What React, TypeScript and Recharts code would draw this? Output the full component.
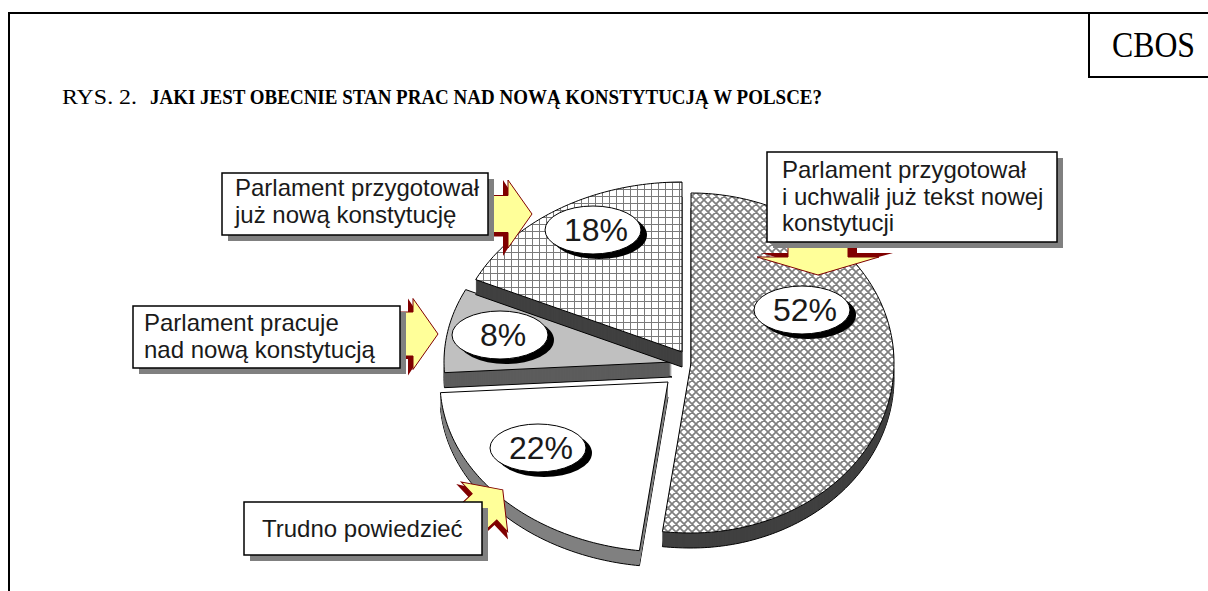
import React from 'react';
import { PieChart, Pie, Cell } from 'recharts';

// Survey answers, clockwise from 12 o'clock
const CATEGORIES = [
  'Parlament przygotował i uchwalił już tekst nowej konstytucji',
  'Trudno powiedzieć',
  'Parlament pracuje nad nową konstytucją',
  'Parlament przygotował już nową konstytucję',
];
const SHARES = [52, 22, 8, 18];
const CALLOUT_LINES = [
  ['Parlament przygotował', 'i uchwalił już tekst nowej', 'konstytucji'],
  ['Trudno powiedzieć'],
  ['Parlament pracuje', 'nad nową konstytucją'],
  ['Parlament przygotował', 'już nową konstytucję'],
];
const TITLE_PREFIX = 'RYS. 2.';
const TITLE = 'JAKI JEST OBECNIE STAN PRAC NAD NOWĄ KONSTYTUCJĄ W POLSCE?';
const SOURCE = 'CBOS';

const pieData = CATEGORIES.map((name, i) => ({ name, value: SHARES[i] }));

// ---- styling ----
const W = 1208;
const H = 591;
const SANS = '"Liberation Sans", Arial, sans-serif';
const SERIF = '"Liberation Serif", "Times New Roman", serif';
const DEPTH = 15;
const R = 203;
// tilted pie: wider on the left side, flattened vertically
const RX_R = 1;
const RX_L = 228 / 203;
const RY = 170 / 203;

const SLICE_STYLE = [
  { fill: 'url(#crossHatch)', wall: '#404040', dx: 11, dy: -2, lx: 111, ly: -53 },
  { fill: '#ffffff', wall: '#808080', dx: -12, dy: 17, lx: -130, ly: 66 },
  { fill: '#c0c0c0', wall: '#5c5c5c', dx: -8, dy: -3, lx: -172, ly: -27 },
  { fill: 'url(#gridHatch)', wall: '#404040', dx: 2, dy: -13, lx: -89, ly: -122 },
];

const BOXES = [
  { x: 767, y: 152, w: 290, h: 90, tx: 782, ty: 178 },
  { x: 244, y: 502, w: 238, h: 53, tx: 262, ty: 537 },
  { x: 133, y: 306, w: 267, h: 62, tx: 144, ty: 331 },
  { x: 222, y: 173, w: 266, h: 62, tx: 235, ty: 196 },
];

// block arrows: tail point, angle (deg), length, head length, head width, shaft width
const ARROWS = [
  { x: 818, y: 240, a: 90, L: 35, hl: 18, hw: 122, sw: 60, bx: -4, by: -9, bw: 10 },
  { x: 464, y: 526, a: -43, L: 53, hl: 25, hw: 68, sw: 36, bx: -5, by: 2, bw: 8 },
  { x: 400, y: 334, a: 0, L: 38, hl: 25, hw: 71, sw: 44, bx: -5, by: 3, bw: 6 },
  { x: 486, y: 214, a: 0, L: 46, hl: 24, hw: 68, sw: 37, bx: -5, by: 4, bw: 8 },
];

const idxOf = (p: any) => {
  const n = p?.name ?? p?.payload?.name;
  const i = CATEGORIES.indexOf(n);
  return i < 0 ? 0 : i;
};

function ellPoint(cx: number, cy: number, deg: number, r: number) {
  const a = (deg * Math.PI) / 180;
  const c = Math.cos(a);
  const s = Math.sin(a);
  return [cx + r * (c < 0 ? RX_L : RX_R) * c, cy - r * RY * s];
}

function slicePath(cx: number, cy: number, a0: number, a1: number, r: number) {
  const n = Math.max(6, Math.ceil(Math.abs(a1 - a0)));
  let d = `M${cx},${cy}`;
  for (let i = 0; i <= n; i++) {
    const [x, y] = ellPoint(cx, cy, a0 + ((a1 - a0) * i) / n, r);
    d += ` L${x.toFixed(2)},${y.toFixed(2)}`;
  }
  return d + ' Z';
}

const SliceShape = (props: any) => {
  const st = SLICE_STYLE[idxOf(props)];
  const cx = props.cx + st.dx;
  const cy = props.cy + st.dy;
  const d = slicePath(cx, cy, props.startAngle, props.endAngle, props.outerRadius);
  const walls = [];
  for (let k = DEPTH; k >= 1; k--) {
    walls.push(
      <path
        key={k}
        d={d}
        transform={`translate(0,${k})`}
        fill={st.wall}
        stroke={k === DEPTH ? '#000' : 'none'}
        strokeWidth={1}
      />
    );
  }
  return (
    <g>
      {walls}
      <path d={d} fill={props.fill} stroke="#000" strokeWidth={1} strokeLinejoin="round" />
    </g>
  );
};

const renderLabel = (props: any) => {
  const st = SLICE_STYLE[idxOf(props)];
  const x = props.cx + st.dx + st.lx;
  const y = props.cy + st.dy + st.ly;
  return (
    <g key={`lbl-${props.name}`}>
      <ellipse cx={x + 6} cy={y + 5} rx={48} ry={24} fill="#000" />
      <ellipse cx={x} cy={y} rx={48} ry={24} fill="#fff" stroke="#000" strokeWidth={1} />
      <text x={x + 3} y={y + 11} textAnchor="middle" fontFamily={SANS} fontSize={32} fill="#1a1a1a">
        {`${props.value}%`}
      </text>
    </g>
  );
};

const arrowPoly = (L: number, hl: number, hw: number, sw: number) =>
  [
    [0, -sw / 2],
    [L - hl, -sw / 2],
    [L - hl, -hw / 2],
    [L, 0],
    [L - hl, hw / 2],
    [L - hl, sw / 2],
    [0, sw / 2],
  ]
    .map((p) => p.join(','))
    .join(' ');

const BlockArrow = ({ x, y, a, L, hl, hw, sw, bx, by, bw }: any) => (
  <g transform={`translate(${x},${y}) rotate(${a})`}>
    <polygon points={arrowPoly(L, hl, hw + bw, sw)} transform={`translate(${bx},${by})`} fill="#800000" />
    <polygon points={arrowPoly(L, hl, hw, sw)} fill="#ffff99" stroke="#800000" strokeWidth={1} strokeLinejoin="miter" />
  </g>
);

const Callout = ({ box, lines }: any) => (
  <g>
    <rect x={box.x + 6} y={box.y + 6} width={box.w} height={box.h} fill="#808080" />
    <rect x={box.x} y={box.y} width={box.w} height={box.h} fill="#fff" stroke="#000" strokeWidth={1.5} />
    {lines.map((ln: string, i: number) => (
      <text key={i} x={box.tx} y={box.ty + i * 26.5} fontFamily={SANS} fontSize={24} fill="#1a1a1a">
        {ln}
      </text>
    ))}
  </g>
);

export default function App() {
  return (
    <div style={{ position: 'absolute', left: 0, top: 0, width: W, height: H, background: '#fff', overflow: 'hidden' }}>
      <svg width={0} height={0} style={{ position: 'absolute' }}>
        <defs>
          <pattern id="gridHatch" width={7} height={7} patternUnits="userSpaceOnUse">
            <rect width={7} height={7} fill="#fff" />
            <path d="M0,0.5 H7 M0.5,0 V7" stroke="#7a7a7a" strokeWidth={1} />
          </pattern>
          <pattern id="crossHatch" width={8} height={8} patternUnits="userSpaceOnUse">
            <rect width={8} height={8} fill="#fff" />
            <path
              d="M0,0 L8,8 M-1,7 L1,9 M7,-1 L9,1 M0,8 L8,0 M-1,1 L1,-1 M7,9 L9,7"
              stroke="#7f7f7f"
              strokeWidth={1.7}
            />
          </pattern>
        </defs>
      </svg>

      <div style={{ position: 'absolute', left: 0, top: 0 }}>
        <PieChart width={W} height={H} margin={{ top: 0, right: 0, bottom: 0, left: 0 }}>
          <Pie
            data={pieData}
            dataKey="value"
            nameKey="name"
            cx={680}
            cy={365}
            outerRadius={R}
            startAngle={90}
            endAngle={-270}
            stroke="none"
            isAnimationActive={false}
            shape={SliceShape}
            inactiveShape={SliceShape}
            activeShape={SliceShape}
            label={renderLabel}
            labelLine={false}
          >
            {pieData.map((d, i) => (
              <Cell key={d.name} fill={SLICE_STYLE[i].fill} />
            ))}
          </Pie>
        </PieChart>
      </div>

      <svg width={W} height={H} style={{ position: 'absolute', left: 0, top: 0, pointerEvents: 'none' }}>
        {/* frame */}
        <line x1={8} y1={13} x2={W} y2={13} stroke="#000" strokeWidth={2} />
        <line x1={9} y1={12} x2={9} y2={H} stroke="#000" strokeWidth={2} />
        <polyline points={`1089,13 1089,77 ${W},77`} fill="none" stroke="#000" strokeWidth={2} />
        <text x={1112} y={57} fontFamily={SERIF} fontSize={35} textLength={83} lengthAdjust="spacingAndGlyphs" fill="#000">
          {SOURCE}
        </text>
        <text x={62} y={104} fontFamily={SERIF} fontSize={22} textLength={75} lengthAdjust="spacingAndGlyphs" fill="#000">
          {TITLE_PREFIX}
        </text>
        <text
          x={150}
          y={104}
          fontFamily={SERIF}
          fontSize={22}
          fontWeight="bold"
          textLength={672}
          lengthAdjust="spacingAndGlyphs"
          fill="#000"
        >
          {TITLE}
        </text>

        {ARROWS.map((a, i) => (
          <BlockArrow key={i} {...a} />
        ))}
        {BOXES.map((b, i) => (
          <Callout key={i} box={b} lines={CALLOUT_LINES[i]} />
        ))}
      </svg>
    </div>
  );
}
